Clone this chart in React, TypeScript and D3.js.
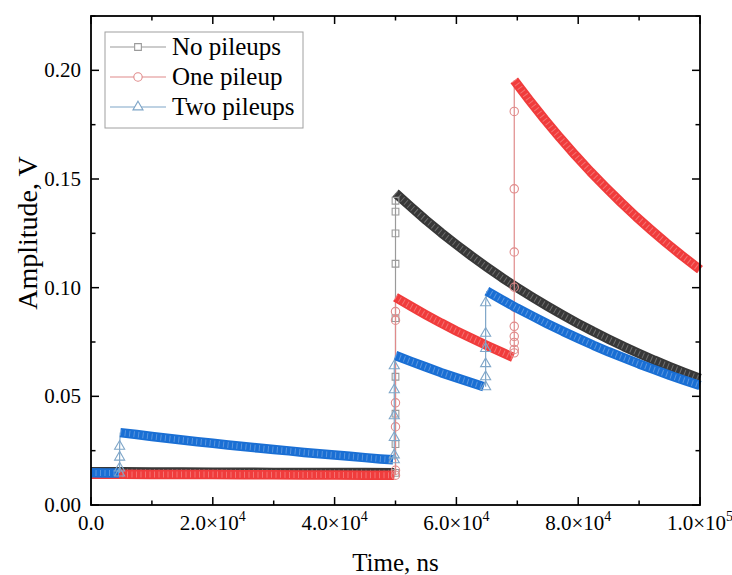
import React from "react";
import * as d3 from "d3";

// ---------- data (time in ns, amplitude in V) ----------
const xTicks = [0, 20000, 40000, 60000, 80000, 100000];
const xTickMantissa = ["0.0", "2.0", "4.0", "6.0", "8.0", "1.0"];
const xTickExp = ["", "4", "4", "4", "4", "5"];
const yTicks = [0, 0.05, 0.1, 0.15, 0.2];
const yTickLabels = ["0.00", "0.05", "0.10", "0.15", "0.20"];

const seriesNames = ["No pileups", "One pileup", "Two pileups"];

// No pileups
const noBase: [number, number][] = [
  [0, 0.0153], [5000, 0.0153], [10000, 0.0152], [15000, 0.0152], [20000, 0.0151],
  [25000, 0.0151], [30000, 0.015], [35000, 0.015], [40000, 0.0149], [45000, 0.0149], [49800, 0.0148],
];
const noRise1 = [0.0148, 0.028, 0.042, 0.059, 0.086, 0.111, 0.125, 0.135, 0.14];
const noRise1Time = 50000;
const noDecay: [number, number][] = [
  [50000, 0.1435], [52500, 0.1372], [55000, 0.1311], [57500, 0.1253], [60000, 0.1198],
  [62500, 0.1145], [65000, 0.1095], [67500, 0.1046], [70000, 0.1], [72500, 0.0956],
  [75000, 0.0914], [77500, 0.0874], [80000, 0.0835], [82500, 0.0798], [85000, 0.0763],
  [87500, 0.0729], [90000, 0.0697], [92500, 0.0666], [95000, 0.0637], [97500, 0.0609], [100000, 0.0582],
];

// One pileup
const oneBase: [number, number][] = [
  [0, 0.0141], [5000, 0.0141], [10000, 0.014], [15000, 0.014], [20000, 0.014],
  [25000, 0.0139], [30000, 0.0139], [35000, 0.0138], [40000, 0.0138], [45000, 0.0137], [49800, 0.0137],
];
const oneRise1 = [0.0137, 0.016, 0.036, 0.047, 0.085, 0.089];
const oneRise1Time = 50000;
const oneDecay1: [number, number][] = [
  [50000, 0.0956], [52500, 0.0915], [55000, 0.0875], [57500, 0.0837], [60000, 0.0801],
  [62500, 0.0767], [65000, 0.0734], [67500, 0.0702], [69300, 0.0679],
];
const oneRise2 = [0.07, 0.0716, 0.0748, 0.0776, 0.0822, 0.091, 0.1002, 0.1164, 0.1455, 0.1811];
const oneRise2Time = 69500;
const oneDecay2: [number, number][] = [
  [69500, 0.1954], [72000, 0.1862], [74500, 0.1774], [77000, 0.169], [79500, 0.161],
  [82000, 0.1534], [84500, 0.1462], [87000, 0.1393], [89500, 0.1327], [92000, 0.1265],
  [94500, 0.1205], [97000, 0.1148], [99500, 0.1094], [100000, 0.1083],
];

// Two pileups
const twoBase: [number, number][] = [[0, 0.0148], [2500, 0.0147], [4600, 0.0147]];
const twoRise1 = [0.0147, 0.017, 0.022, 0.027];
const twoRise1Time = 4700;
const twoDecay1: [number, number][] = [
  [4800, 0.0333], [7500, 0.0324], [10000, 0.0315], [12500, 0.0307], [15000, 0.0299],
  [17500, 0.0291], [20000, 0.0284], [22500, 0.0276], [25000, 0.0269], [27500, 0.0262],
  [30000, 0.0255], [32500, 0.0249], [35000, 0.0242], [37500, 0.0236], [40000, 0.023],
  [42500, 0.0224], [45000, 0.0218], [47500, 0.0212], [49600, 0.0208],
];
const twoRise2 = [0.0208, 0.023, 0.031, 0.041, 0.053, 0.064];
const twoRise2Time = 49800;
const twoDecay2: [number, number][] = [
  [50000, 0.0688], [52500, 0.0661], [55000, 0.0635], [57500, 0.0609], [60000, 0.0585],
  [62500, 0.0562], [64500, 0.0544],
];
const twoRise3 = [0.0544, 0.059, 0.065, 0.072, 0.079, 0.093];
const twoRise3Time = 64800;
const twoDecay3: [number, number][] = [
  [65000, 0.0984], [67500, 0.0944], [70000, 0.0905], [72500, 0.0869], [75000, 0.0833],
  [77500, 0.0799], [80000, 0.0767], [82500, 0.0735], [85000, 0.0705], [87500, 0.0677],
  [90000, 0.0649], [92500, 0.0623], [95000, 0.0597], [97500, 0.0573], [100000, 0.055],
];

// ---------- layout ----------
const W = 732;
const H = 575;
const left = 91;
const right = 700;
const top = 16;
const bottom = 505;
const FONT = "'Liberation Serif', 'Times New Roman', serif";

const x = d3.scaleLinear().domain([0, 100000]).range([left, right]);
const y = d3.scaleLinear().domain([0, 0.225]).range([bottom, top]);

type Series = {
  name: string;
  band: string;
  light: string;
  symbol: d3.SymbolType;
  size: number;
  segments: [number, number][][];
  rises: { t: number; vals: number[] }[];
};

const series: Series[] = [
  {
    name: seriesNames[0],
    band: "#383838",
    light: "#9a9a9a",
    symbol: d3.symbolSquare,
    size: 45,
    segments: [noBase, noDecay],
    rises: [{ t: noRise1Time, vals: noRise1 }],
  },
  {
    name: seriesNames[1],
    band: "#f03c3c",
    light: "#e08a8a",
    symbol: d3.symbolCircle,
    size: 55,
    segments: [oneBase, oneDecay1, oneDecay2],
    rises: [
      { t: oneRise1Time, vals: oneRise1 },
      { t: oneRise2Time, vals: oneRise2 },
    ],
  },
  {
    name: seriesNames[2],
    band: "#1a6fd4",
    light: "#7fa6c8",
    symbol: d3.symbolTriangle,
    size: 44,
    segments: [twoBase, twoDecay1, twoDecay2, twoDecay3],
    rises: [
      { t: twoRise1Time, vals: twoRise1 },
      { t: twoRise2Time, vals: twoRise2 },
      { t: twoRise3Time, vals: twoRise3 },
    ],
  },
];

const line = d3
  .line<[number, number]>()
  .x((d) => x(d[0]))
  .y((d) => y(d[1]));

function SeriesMarks({ s }: { s: Series }) {
  const sym = d3.symbol().type(s.symbol).size(s.size)();
  return (
    <g>
      {s.rises.map((r, i) => {
        const pts: [number, number][] = r.vals.map((v) => [r.t, v]);
        const next = s.segments[i + 1];
        if (next) pts.push(next[0]);
        return (
          <path key={"rl" + i} d={line(pts) || ""} fill="none" stroke={s.light} strokeWidth={1.2} />
        );
      })}
      {s.segments.map((seg, i) => (
        <g key={"b" + i}>
          <path d={line(seg) || ""} fill="none" stroke={s.band} strokeWidth={9.5} strokeLinejoin="round" />
          <path
            d={line(seg) || ""}
            fill="none"
            stroke="#ffffff"
            strokeOpacity={0.28}
            strokeWidth={6}
            strokeDasharray="1 3.5"
          />
        </g>
      ))}
      {s.rises.map((r, i) =>
        r.vals.map((v, j) => (
          <path
            key={"m" + i + "-" + j}
            d={sym || ""}
            transform={`translate(${x(r.t)},${y(v)})`}
            fill="none"
            stroke={s.light}
            strokeWidth={1.1}
          />
        ))
      )}
    </g>
  );
}

export default function App() {
  const xMinor = d3.range(10000, 100000, 20000);
  const yMinor = [0.025, 0.075, 0.125, 0.175, 0.225];
  const legendX = 105;
  const legendY = 32;
  const legendRows = [47, 77, 107];
  return (
    <svg
      width={W}
      height={H}
      style={{ position: "absolute", left: 0, top: 0, background: "#fff" }}
      fontFamily={FONT}
    >
      <rect x={0} y={0} width={W} height={H} fill="#fff" />
      {series.map((s) => (
        <SeriesMarks key={s.name} s={s} />
      ))}

      <rect x={left} y={top} width={right - left} height={bottom - top} fill="none" stroke="#000" strokeWidth={1.8} />

      {xTicks.map((t) => (
        <g key={"xt" + t}>
          <line x1={x(t)} x2={x(t)} y1={bottom} y2={bottom - 8} stroke="#000" strokeWidth={1.5} />
          <line x1={x(t)} x2={x(t)} y1={top} y2={top + 8} stroke="#000" strokeWidth={1.5} />
        </g>
      ))}
      {xMinor.map((t) => (
        <g key={"xm" + t}>
          <line x1={x(t)} x2={x(t)} y1={bottom} y2={bottom - 4.5} stroke="#000" strokeWidth={1.5} />
          <line x1={x(t)} x2={x(t)} y1={top} y2={top + 4.5} stroke="#000" strokeWidth={1.5} />
        </g>
      ))}
      {yTicks.map((v) => (
        <g key={"yt" + v}>
          <line x1={left} x2={left + 8} y1={y(v)} y2={y(v)} stroke="#000" strokeWidth={1.5} />
          <line x1={right} x2={right - 8} y1={y(v)} y2={y(v)} stroke="#000" strokeWidth={1.5} />
        </g>
      ))}
      {yMinor.map((v) => (
        <g key={"ym" + v}>
          <line x1={left} x2={left + 4.5} y1={y(v)} y2={y(v)} stroke="#000" strokeWidth={1.5} />
          <line x1={right} x2={right - 4.5} y1={y(v)} y2={y(v)} stroke="#000" strokeWidth={1.5} />
        </g>
      ))}

      {xTicks.map((t, i) => (
        <text key={"xl" + t} x={x(t)} y={530} fontSize={21} textAnchor="middle" fill="#000">
          {xTickExp[i] ? (
            <>
              {xTickMantissa[i]}×10
              <tspan fontSize={14} dy={-9}>
                {xTickExp[i]}
              </tspan>
            </>
          ) : (
            xTickMantissa[i]
          )}
        </text>
      ))}
      {yTicks.map((v, i) => (
        <text key={"yl" + v} x={81} y={y(v) + 7} fontSize={21} textAnchor="end" fill="#000">
          {yTickLabels[i]}
        </text>
      ))}

      <text x={(left + right) / 2} y={571} fontSize={25} textAnchor="middle" fill="#000">
        Time, ns
      </text>
      <text transform={`translate(37,233) rotate(-90)`} fontSize={28} textAnchor="middle" fill="#000">
        Amplitude, V
      </text>

      <rect x={legendX} y={legendY} width={198} height={96} fill="#fff" stroke="#a0a0a0" strokeWidth={1} />
      {series.map((s, i) => {
        const sym = d3.symbol().type(s.symbol).size(s.size)();
        const ly = legendRows[i];
        return (
          <g key={"lg" + i}>
            <line x1={110} x2={166} y1={ly} y2={ly} stroke={s.light} strokeWidth={1.2} />
            <path d={sym || ""} transform={`translate(138,${ly})`} fill="#fff" stroke={s.light} strokeWidth={1.1} />
            <text x={172} y={ly + 8} fontSize={25} fill="#000">
              {s.name}
            </text>
          </g>
        );
      })}
    </svg>
  );
}
